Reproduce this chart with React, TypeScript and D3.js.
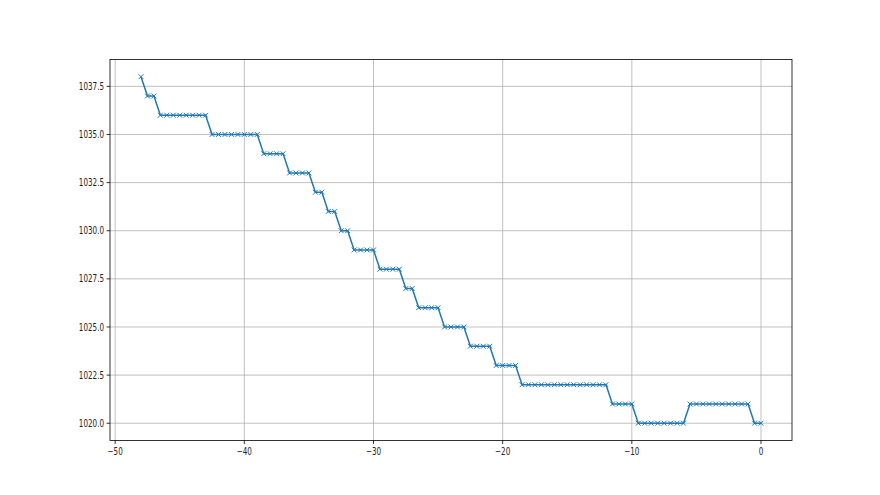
import React from "react";
import * as d3 from "d3";

const xValues: number[] = [
  -48, -47.5, -47, -46.5, -46, -45.5, -45, -44.5, -44, -43.5, -43, -42.5, -42, -41.5, -41, -40.5,
  -40, -39.5, -39, -38.5, -38, -37.5, -37, -36.5, -36, -35.5, -35, -34.5, -34, -33.5, -33, -32.5,
  -32, -31.5, -31, -30.5, -30, -29.5, -29, -28.5, -28, -27.5, -27, -26.5, -26, -25.5, -25, -24.5,
  -24, -23.5, -23, -22.5, -22, -21.5, -21, -20.5, -20, -19.5, -19, -18.5, -18, -17.5, -17, -16.5,
  -16, -15.5, -15, -14.5, -14, -13.5, -13, -12.5, -12, -11.5, -11, -10.5, -10, -9.5, -9, -8.5,
  -8, -7.5, -7, -6.5, -6, -5.5, -5, -4.5, -4, -3.5, -3, -2.5, -2, -1.5, -1, -0.5, 0,
];

const yValues: number[] = [
  1038,
  1037, 1037,
  1036, 1036, 1036, 1036, 1036, 1036, 1036, 1036,
  1035, 1035, 1035, 1035, 1035, 1035, 1035, 1035,
  1034, 1034, 1034, 1034,
  1033, 1033, 1033, 1033,
  1032, 1032,
  1031, 1031,
  1030, 1030,
  1029, 1029, 1029, 1029,
  1028, 1028, 1028, 1028,
  1027, 1027,
  1026, 1026, 1026, 1026,
  1025, 1025, 1025, 1025,
  1024, 1024, 1024, 1024,
  1023, 1023, 1023, 1023,
  1022, 1022, 1022, 1022, 1022, 1022, 1022, 1022, 1022, 1022, 1022, 1022, 1022, 1022,
  1021, 1021, 1021, 1021,
  1020, 1020, 1020, 1020, 1020, 1020, 1020, 1020,
  1021, 1021, 1021, 1021, 1021, 1021, 1021, 1021, 1021, 1021,
  1020, 1020,
];

const xTicks: number[] = [-50, -40, -30, -20, -10, 0];
const yTicks: number[] = [1020, 1022.5, 1025, 1027.5, 1030, 1032.5, 1035, 1037.5];

const W = 880;
const H = 495;
const left = 110;
const right = 792;
const top = 59.4;
const bottom = 440.55;
const SQ = 0.72;
const COLOR = "#1f77b4";

export default function App() {
  const xMin = d3.min(xValues)!;
  const xMax = d3.max(xValues)!;
  const yMin = d3.min(yValues)!;
  const yMax = d3.max(yValues)!;
  const xp = (xMax - xMin) * 0.05;
  const yp = (yMax - yMin) * 0.05;
  const x = d3.scaleLinear().domain([xMin - xp, xMax + xp]).range([left, right]);
  const y = d3.scaleLinear().domain([yMin - yp, yMax + yp]).range([bottom, top]);
  const pts: [number, number][] = xValues.map((v, i) => [v, yValues[i]]);
  const line = d3
    .line<[number, number]>()
    .x((d) => x(d[0]))
    .y((d) => y(d[1]));
  const fmtY = (v: number) => v.toFixed(1);
  const fmtX = (v: number) => (v < 0 ? "\u2212" + Math.abs(v) : String(v));
  const m = 2.4;
  return (
    <svg
      width={W}
      height={H}
      style={{ position: "absolute", left: 0, top: 0, background: "#fff" }}
      fontFamily="DejaVu Sans"
      fontSize={10}
    >
      <rect x={0} y={0} width={W} height={H} fill="#fff" />
      {xTicks.map((t) => (
        <line key={"gx" + t} x1={x(t)} x2={x(t)} y1={top} y2={bottom} stroke="#b0b0b0" strokeWidth={0.8} />
      ))}
      {yTicks.map((t) => (
        <line key={"gy" + t} x1={left} x2={right} y1={y(t)} y2={y(t)} stroke="#b0b0b0" strokeWidth={0.8} />
      ))}
      <path d={line(pts) || ""} fill="none" stroke={COLOR} strokeWidth={1.5} />
      {pts.map((d, i) => {
        const cx = x(d[0]);
        const cy = y(d[1]);
        return (
          <path
            key={"m" + i}
            d={`M${cx - m},${cy - m}L${cx + m},${cy + m}M${cx - m},${cy + m}L${cx + m},${cy - m}`}
            stroke={COLOR}
            strokeWidth={1}
            fill="none"
          />
        );
      })}
      <rect x={left} y={top} width={right - left} height={bottom - top} fill="none" stroke="#000" strokeWidth={0.8} />
      {xTicks.map((t) => (
        <g key={"tx" + t}>
          <line x1={x(t)} x2={x(t)} y1={bottom} y2={bottom + 3.5} stroke="#000" strokeWidth={0.8} />
          <text
            transform={`translate(${x(t)},${bottom + 14.3}) scale(${SQ},1)`}
            textAnchor="middle"
            fill="#222"
          >
            {fmtX(t)}
          </text>
        </g>
      ))}
      {yTicks.map((t) => (
        <g key={"ty" + t}>
          <line x1={left - 3.5} x2={left} y1={y(t)} y2={y(t)} stroke="#000" strokeWidth={0.8} />
          <text
            transform={`translate(${left - 6},${y(t) + 3.6}) scale(${SQ},1)`}
            textAnchor="end"
            fill="#222"
          >
            {fmtY(t)}
          </text>
        </g>
      ))}
    </svg>
  );
}
